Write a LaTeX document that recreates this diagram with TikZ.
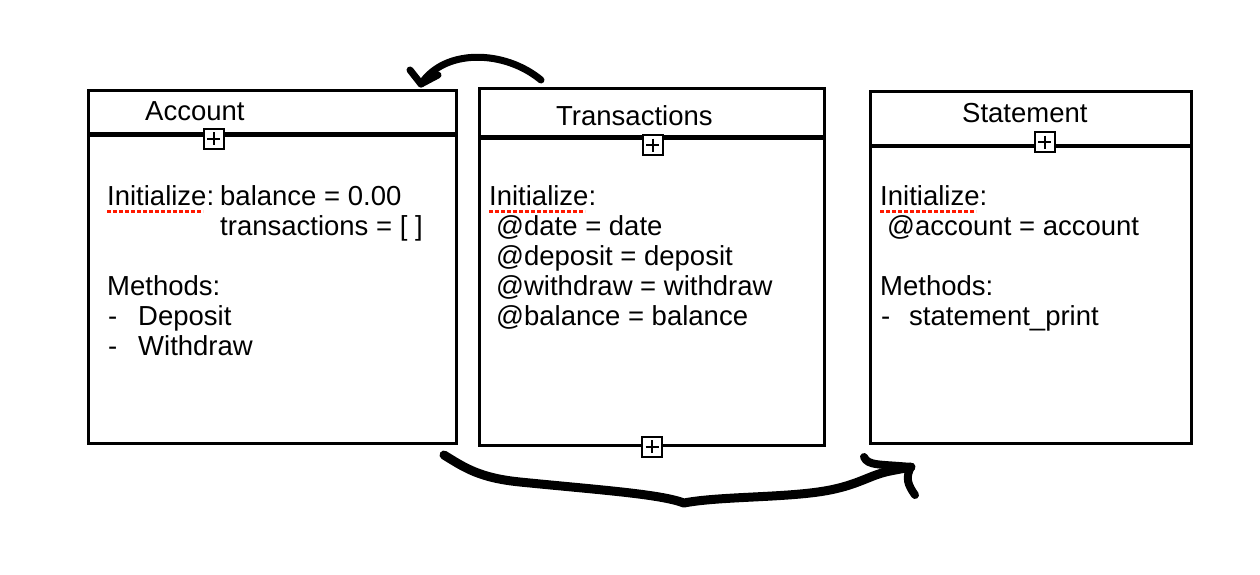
\documentclass[tikz,border=0pt]{standalone}
\usepackage{fontspec}
\setmainfont{Liberation Sans}
\begin{document}
\begin{tikzpicture}[x=1pt,y=-1pt,
  box/.style={draw,line width=3pt,inner sep=0pt,outer sep=0pt,anchor=north west},
  hline/.style={line width=4.5pt},
  plusbox/.style={draw,fill=white,line width=2pt,minimum size=20pt,inner sep=0pt,outer sep=0pt},
  txt/.style={anchor=base west,inner sep=0pt,font=\fontsize{27.5}{30}\selectfont},
  spell/.style={draw=red!80!orange,line width=2.5pt,dash pattern=on 4pt off 2pt},
  stroke/.style={line cap=round,line join=round}]
\useasboundingbox (0,0) rectangle (1260,574);
\fill[white] (0,0) rectangle (1260,574);
\newcommand{\plusin}[1]{\draw[line width=2pt] (#1.center) ++(-6.5,0) -- ++(13,0) (#1.center) ++(0,-6.5) -- ++(0,13);}
% boxes
\node[box,minimum width=368pt,minimum height=353pt] (acc) at (88.5,90.5) {};
\node[box,minimum width=345pt,minimum height=357pt] (tra) at (479.5,88.5) {};
\node[box,minimum width=321.5pt,minimum height=352pt] (sta) at (870,91.5) {};
% header lines
\draw[hline] (acc.west |- 0,134.5) -- (acc.east |- 0,134.5);
\draw[hline] (tra.west |- 0,137.5) -- (tra.east |- 0,137.5);
\draw[hline] (sta.west |- 0,146) -- (sta.east |- 0,146);
% plus boxes
\node[plusbox] (p1) at (213.5,138.5) {}; \plusin{p1}
\node[plusbox] (p2) at (652.5,145) {}; \plusin{p2}
\node[plusbox] (p3) at (652,446.5) {}; \plusin{p3}
\node[plusbox] (p4) at (1044.5,142) {}; \plusin{p4}
% titles
\node[txt] (t1) at (145,120) {Account};
\node[txt] (t2) at (556,125) {Transactions};
\node[txt] (t3) at (962,122) {Statement};
% account body
\node[txt] (a1) at (107,205) {Initialize:};
\node[txt] (a2) at (220,205) {balance = 0.00};
\node[txt] (a3) at (220,235) {transactions = [ ]};
\node[txt] (a4) at (107,295) {Methods:};
\node[txt] (a5) at (108,325) {-};
\node[txt] (a6) at (138,325) {Deposit};
\node[txt] (a7) at (108,355) {-};
\node[txt] (a8) at (138,355) {Withdraw};
% transactions body
\node[txt] (b1) at (489,205) {Initialize:};
\node[txt] (b2) at (496,235) {@date = date};
\node[txt] (b3) at (496,265) {@deposit = deposit};
\node[txt] (b4) at (496,295) {@withdraw = withdraw};
\node[txt] (b5) at (496,325) {@balance = balance};
% statement body
\node[txt] (c1) at (880,205) {Initialize:};
\node[txt] (c2) at (887,235) {@account = account};
\node[txt] (c3) at (880,295) {Methods:};
\node[txt] (c4) at (881,325) {-};
\node[txt] (c5) at (909,325) {statement\_print};
% spell-check underlines
\draw[spell] (107,211.5) -- (203,211.5);
\draw[spell] (489,211.5) -- (585,211.5);
\draw[spell] (880,211.5) -- (976,211.5);
% top arrow
\coordinate (ts) at (541,80);
\coordinate (tt) at (421,84);
\draw[stroke,line width=7pt] (ts) .. controls (505,50) and (445,48) .. (tt);
\draw[stroke,line width=7pt] (410,70) -- (tt) -- (438,75);
% bottom arrow
\coordinate (bs) at (444,455);
\coordinate (bt) at (911,467);
\draw[stroke,line width=9pt] (bs) .. controls (465,468) and (480,478) .. (520,482)
  .. controls (600,490) and (660,494) .. (684,503)
  .. controls (720,496) and (790,498) .. (830,490)
  .. controls (860,484) and (870,475) .. (890,471) -- (bt);
\draw[stroke,line width=8pt] (864,457) .. controls (868,466) and (880,464) .. (bt)
  .. controls (905,478) and (908,485) .. (915,495);
\end{tikzpicture}
\end{document}
